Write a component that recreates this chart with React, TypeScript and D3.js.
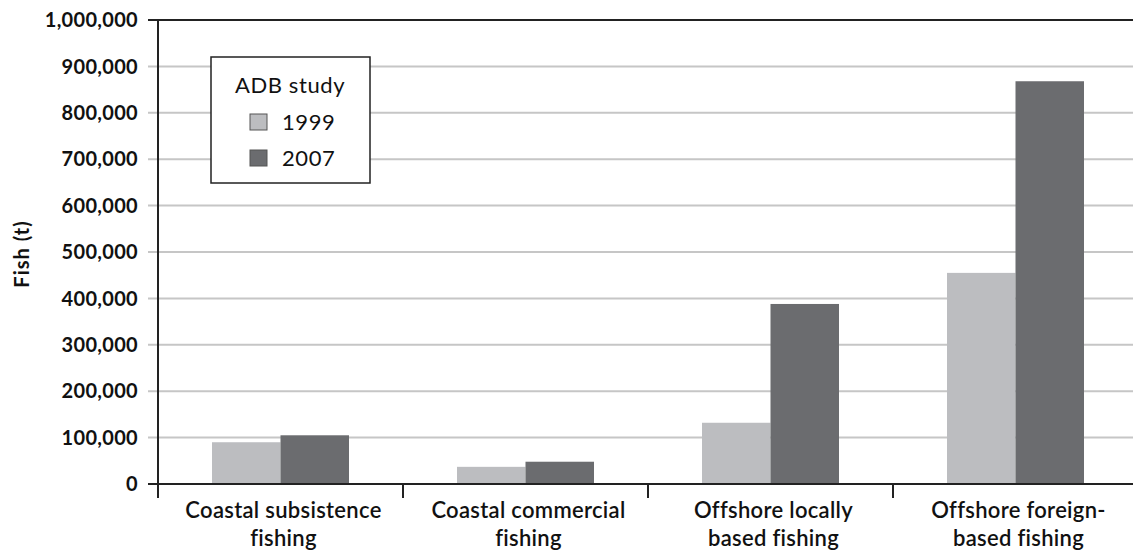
import { useEffect, useRef } from 'react';
import * as d3 from 'd3';

const categories = [
    ['Coastal subsistence', 'fishing'],
    ['Coastal commercial', 'fishing'],
    ['Offshore locally', 'based fishing'],
    ['Offshore foreign-', 'based fishing'],
];
const seriesNames = ['1999', '2007'];
const values1999 = [90000, 37000, 132000, 455000];
const values2007 = [105000, 48000, 388000, 868000];
const yTicks = [0, 100000, 200000, 300000, 400000, 500000, 600000, 700000, 800000, 900000, 1000000];
const colors = ['#bcbdc0', '#6b6c6f'];

export default function App() {
    const svgRef = useRef<SVGSVGElement>(null);

    useEffect(() => {
        if (!svgRef.current) return;
        const svg = d3.select(svgRef.current);
        svg.selectAll('*').remove();

        const width = 1133;
        const left = 158;
        const right = 1138;
        const top = 20;
        const bottom = 484;
        const font = 'Lato, "Open Sans", sans-serif';

        const y = d3.scaleLinear().domain([0, 1000000]).range([bottom, top]);
        const x = d3.scaleBand<number>()
            .domain(d3.range(categories.length))
            .range([left, right]);
        const inner = d3.scaleBand<number>()
            .domain([0, 1])
            .range([54, x.bandwidth() - 54]);

        // grid lines
        svg.append('g')
            .selectAll('line')
            .data(yTicks.filter(d => d > 0))
            .join('line')
            .attr('x1', left - 10)
            .attr('x2', width)
            .attr('y1', d => y(d))
            .attr('y2', d => y(d))
            .attr('stroke', d => (d === 1000000 ? '#222' : '#c6c6c6'))
            .attr('stroke-width', 2);

        // y tick labels
        svg.append('g')
            .selectAll('text')
            .data(yTicks)
            .join('text')
            .attr('x', 138)
            .attr('y', d => y(d))
            .attr('dy', '0.36em')
            .attr('text-anchor', 'end')
            .style('font-family', font)
            .style('font-size', '20px')
            .style('font-weight', 'bold')
            .style('letter-spacing', '0.3px')
            .style('fill', '#111')
            .text(d => d3.format(',')(d));

        // bars
        const data = [values1999, values2007];
        const groups = svg.append('g')
            .selectAll('g')
            .data(categories.map((_, i) => i))
            .join('g')
            .attr('transform', i => `translate(${x(i)},0)`);
        groups.selectAll('rect')
            .data(i => data.map((s, k) => ({ k, v: s[i] })))
            .join('rect')
            .attr('x', d => inner(d.k)!)
            .attr('width', inner.bandwidth())
            .attr('y', d => y(d.v))
            .attr('height', d => bottom - y(d.v))
            .attr('fill', d => colors[d.k]);

        // axes
        svg.append('line')
            .attr('x1', left).attr('x2', left)
            .attr('y1', top).attr('y2', bottom + 14)
            .attr('stroke', '#222').attr('stroke-width', 2);
        svg.append('line')
            .attr('x1', left - 10).attr('x2', width)
            .attr('y1', bottom).attr('y2', bottom)
            .attr('stroke', '#222').attr('stroke-width', 2);
        svg.append('g')
            .selectAll('line')
            .data(d3.range(1, categories.length))
            .join('line')
            .attr('x1', i => x(i)!)
            .attr('x2', i => x(i)!)
            .attr('y1', bottom)
            .attr('y2', bottom + 14)
            .attr('stroke', '#222')
            .attr('stroke-width', 2);

        // category labels
        const labels = svg.append('g')
            .selectAll('text')
            .data(categories)
            .join('text')
            .attr('text-anchor', 'middle')
            .style('font-family', font)
            .style('font-size', '22px')
            .style('font-weight', '600')
            .style('letter-spacing', '0.3px')
            .style('fill', '#111');
        labels.each(function (d, i) {
            const t = d3.select(this);
            d.forEach((line, j) => {
                t.append('tspan')
                    .attr('x', x(i)! + x.bandwidth() / 2 + 3)
                    .attr('y', 518 + j * 28)
                    .text(line);
            });
        });

        // y axis title
        svg.append('text')
            .attr('transform', `translate(29,${(top + bottom) / 2 + 2}) rotate(-90)`)
            .attr('text-anchor', 'middle')
            .style('font-family', font)
            .style('font-size', '20px')
            .style('font-weight', 'bold')
            .style('letter-spacing', '1px')
            .style('fill', '#111')
            .text('Fish (t)');

        // legend
        const lg = svg.append('g');
        lg.append('rect')
            .attr('x', 211).attr('y', 57)
            .attr('width', 159).attr('height', 126)
            .attr('fill', '#fff')
            .attr('stroke', '#222')
            .attr('stroke-width', 1.5);
        lg.append('text')
            .attr('x', 290).attr('y', 93)
            .attr('text-anchor', 'middle')
            .style('font-family', font)
            .style('font-size', '22px')
            .style('letter-spacing', '0.6px')
            .style('fill', '#111')
            .text('ADB study');
        seriesNames.forEach((name, k) => {
            const cy = 122 + k * 36;
            lg.append('rect')
                .attr('x', 250).attr('y', cy - 8)
                .attr('width', 17).attr('height', 16)
                .attr('fill', colors[k])
                .attr('stroke', '#555')
                .attr('stroke-width', 1);
            lg.append('text')
                .attr('x', 282).attr('y', cy)
                .attr('dy', '0.36em')
                .style('font-family', font)
                .style('font-size', '22px')
                .style('letter-spacing', '0.6px')
                .style('fill', '#111')
                .text(name);
        });
    }, []);

    return (
        <svg
            ref={svgRef}
            width={1133}
            height={554}
            style={{ position: 'absolute', left: 0, top: 0, overflow: 'visible' }}
        ></svg>
    );
}
